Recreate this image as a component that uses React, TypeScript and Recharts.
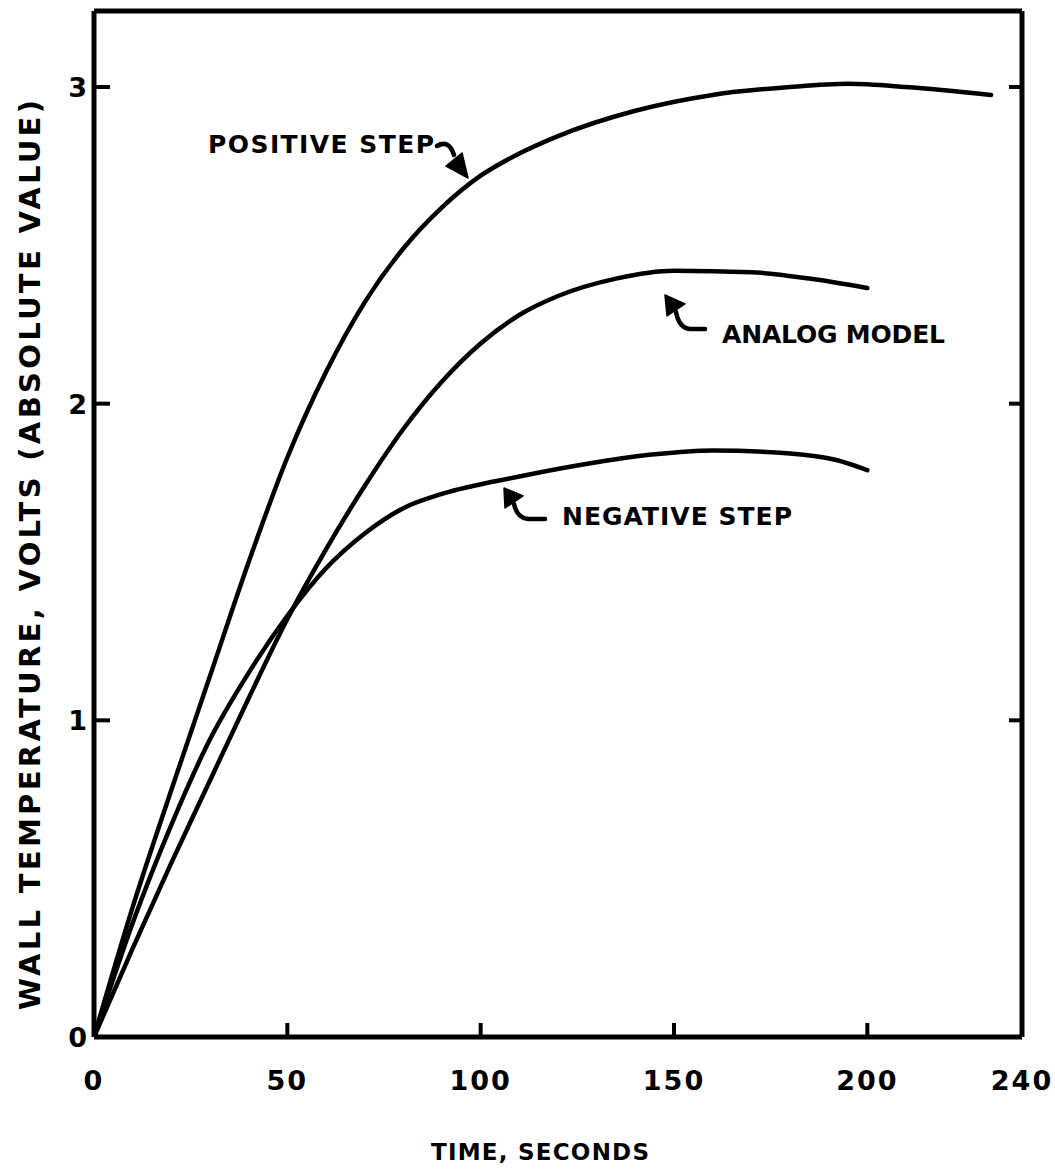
import React from "react";
import { LineChart, Line, XAxis, YAxis } from "recharts";

// Readings taken off the scanned plot (seconds -> volts)
const positiveT = [0, 10, 20, 30, 40, 50, 60, 70, 80, 90, 100, 110, 120, 140, 160, 180, 195, 210, 232];
const positiveV = [0, 0.41, 0.78, 1.14, 1.5, 1.83, 2.1, 2.32, 2.49, 2.62, 2.72, 2.79, 2.845, 2.925, 2.975, 3.0, 3.01, 3.0, 2.975];

const analogT = [0, 10, 20, 30, 40, 50, 60, 70, 80, 90, 100, 110, 120, 135, 150, 170, 185, 200];
const analogV = [0, 0.28, 0.55, 0.81, 1.07, 1.32, 1.54, 1.74, 1.92, 2.07, 2.19, 2.28, 2.34, 2.395, 2.42, 2.415, 2.395, 2.365];

const negativeT = [0, 10, 20, 30, 40, 50, 60, 70, 80, 90, 110, 130, 145, 160, 180, 192, 200];
const negativeV = [0, 0.36, 0.67, 0.94, 1.15, 1.33, 1.48, 1.59, 1.67, 1.715, 1.77, 1.815, 1.84, 1.852, 1.843, 1.822, 1.79];

const xTicks = [0, 50, 100, 150, 200, 240];
const yTicks = [0, 1, 2, 3];

const toRows = (ts: number[], vs: number[]) => ts.map((t, i) => ({ t, v: vs[i] }));
const positive = toRows(positiveT, positiveV);
const analog = toRows(analogT, analogV);
const negative = toRows(negativeT, negativeV);

const W = 1055;
const H = 1176;
const LEFT = 94;
const TOP = 11;
const RIGHT = 1022;
const BOTTOM = 1037;
const INK = "#000";
const FONT = "'DejaVu Sans', sans-serif";
const Y_AXIS_W = 60;
const X_AXIS_H = 60;
const R_AXIS_W = 10;
const T_AXIS_H = 5;
const FRAME = { stroke: INK, strokeWidth: 5 };

const BottomTick = (props: any) => {
  const { x, payload } = props;
  const v = payload.value;
  const inner = v > 0 && v < 240;
  return (
    <g>
      {inner && <line x1={x} y1={BOTTOM} x2={x} y2={BOTTOM - 14} stroke={INK} strokeWidth={4} />}
      <text x={x} y={1090} textAnchor="middle" fontFamily={FONT} fontWeight="bold" fontSize={27} fill={INK} letterSpacing={2}>
        {v}
      </text>
    </g>
  );
};

const LeftTick = (props: any) => {
  const { y, payload } = props;
  const v = payload.value;
  return (
    <g>
      {v > 0 && <line x1={LEFT} y1={y} x2={LEFT + 16} y2={y} stroke={INK} strokeWidth={4} />}
      <text x={LEFT - 7} y={y + 10} textAnchor="end" fontFamily={FONT} fontWeight="bold" fontSize={27} fill={INK}>
        {v}
      </text>
    </g>
  );
};

const RightTick = (props: any) => {
  const { y } = props;
  return <line x1={RIGHT} y1={y} x2={RIGHT - 13} y2={y} stroke={INK} strokeWidth={4} />;
};

const TopTick = (props: any) => {
  const { x } = props;
  return <line x1={x} y1={TOP} x2={x} y2={TOP + 12} stroke={INK} strokeWidth={4} />;
};

const Arrow = ({ shaft, head }: { shaft: string; head: string }) => (
  <g>
    <path d={shaft} fill="none" stroke={INK} strokeWidth={4.5} strokeLinecap="round" strokeLinejoin="round" />
    <polygon points={head} fill={INK} stroke={INK} strokeWidth={1.5} strokeLinejoin="round" />
  </g>
);

const Notes = () => {
  const lbl = { fontFamily: FONT, fontWeight: "bold" as const, fill: INK, lengthAdjust: "spacing" };
  return (
    <svg width={W} height={H} style={{ position: "absolute", left: 0, top: 0, pointerEvents: "none" }}>
      <text x={208} y={153} fontSize={25} textLength={226} {...lbl}>POSITIVE STEP</text>
      <Arrow shaft="M437 146 Q449 139 454 155" head="468,178 446,166 462,153" />

      <text x={722} y={343} fontSize={25} textLength={223} {...lbl}>ANALOG MODEL</text>
      <Arrow shaft="M705 329 L690 329 Q679 328 676 312" head="665,295 667,316 685,304" />

      <text x={562} y={525} fontSize={25} textLength={230} {...lbl}>NEGATIVE STEP</text>
      <Arrow shaft="M545 519 L528 519 Q517 518 514 504" head="504,488 505,508 523,496" />

      <text x={540} y={1160} fontSize={23} textAnchor="middle" textLength={218} {...lbl}>TIME, SECONDS</text>
      <text
        x={0}
        y={0}
        fontSize={29}
        textAnchor="middle"
        textLength={910}
        transform="translate(40 555) rotate(-90)"
        {...lbl}
      >
        WALL TEMPERATURE, VOLTS (ABSOLUTE VALUE)
      </text>
    </svg>
  );
};

export default function App() {
  return (
    <div style={{ position: "absolute", left: 0, top: 0, width: W, height: H, background: "#fff" }}>
      <LineChart
        width={W}
        height={H}
        margin={{
          top: TOP - T_AXIS_H,
          left: LEFT - Y_AXIS_W,
          right: W - RIGHT - R_AXIS_W,
          bottom: H - BOTTOM - X_AXIS_H,
        }}
      >
        <XAxis
          xAxisId="b"
          dataKey="t"
          type="number"
          domain={[0, 240]}
          ticks={xTicks}
          height={X_AXIS_H}
          tickLine={false}
          axisLine={FRAME}
          tick={<BottomTick />}
          interval={0}
          allowDataOverflow
        />
        <XAxis
          xAxisId="top"
          orientation="top"
          type="number"
          domain={[0, 240]}
          ticks={[50, 100, 150, 200]}
          height={T_AXIS_H}
          tickLine={false}
          axisLine={FRAME}
          tick={<TopTick />}
          interval={0}
          allowDataOverflow
        />
        <YAxis
          yAxisId="l"
          type="number"
          domain={[0, 3.24]}
          ticks={yTicks}
          width={Y_AXIS_W}
          tickLine={false}
          axisLine={FRAME}
          tick={<LeftTick />}
          interval={0}
          allowDataOverflow
        />
        <YAxis
          yAxisId="r"
          orientation="right"
          type="number"
          domain={[0, 3.24]}
          ticks={[1, 2, 3]}
          width={R_AXIS_W}
          tickLine={false}
          axisLine={FRAME}
          tick={<RightTick />}
          interval={0}
          allowDataOverflow
        />
        <Line xAxisId="b" yAxisId="l" data={positive} dataKey="v" type="monotone" stroke={INK} strokeWidth={4.5} strokeLinecap="round" dot={false} isAnimationActive={false} />
        <Line xAxisId="b" yAxisId="l" data={analog} dataKey="v" type="monotone" stroke={INK} strokeWidth={4.5} strokeLinecap="round" dot={false} isAnimationActive={false} />
        <Line xAxisId="b" yAxisId="l" data={negative} dataKey="v" type="monotone" stroke={INK} strokeWidth={4.5} strokeLinecap="round" dot={false} isAnimationActive={false} />
      </LineChart>
      <Notes />
    </div>
  );
}
